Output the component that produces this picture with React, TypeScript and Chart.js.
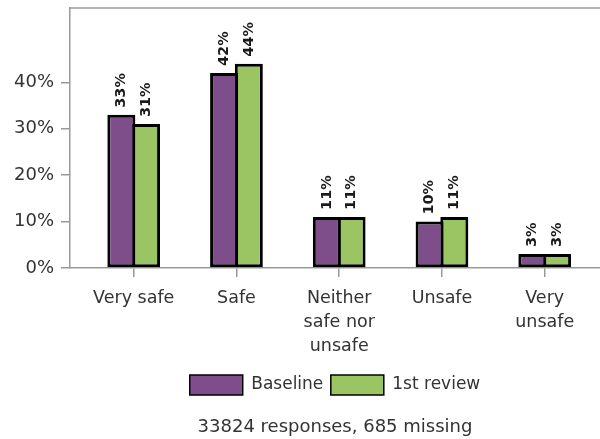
import React, { useEffect, useRef } from "react";
import { Chart, registerables } from "chart.js";

Chart.register(...registerables);

const categories: (string | string[])[] = [
  "Very safe",
  "Safe",
  ["Neither", "safe nor", "unsafe"],
  "Unsafe",
  ["Very", "unsafe"],
];
const baseline = [33, 42, 11, 10, 3];
const firstReview = [31, 44, 11, 11, 3];
const seriesNames = ["Baseline", "1st review"];
const yTicks = [0, 10, 20, 30, 40];
const footnote = "33824 responses, 685 missing";

const PURPLE = "#7d4e8a";
const GREEN = "#9bc463";
const AXIS = "#999999";
const TEXT = "#333333";
const FONT = "'DejaVu Sans', sans-serif";

const labelPlugin = {
  id: "barLabels",
  afterDatasetsDraw(chart: any) {
    const ctx = chart.ctx;
    ctx.save();
    ctx.fillStyle = "#1a1a1a";
    ctx.font = `bold 14.5px ${FONT}`;
    ctx.textAlign = "left";
    ctx.textBaseline = "middle";
    chart.data.datasets.forEach((ds: any, i: number) => {
      const meta = chart.getDatasetMeta(i);
      meta.data.forEach((bar: any, j: number) => {
        const v = ds.data[j].y;
        ctx.save();
        ctx.translate(bar.x, bar.y - 7);
        ctx.rotate(-Math.PI / 2);
        ctx.fillText(`${v}%`, 0, 0);
        ctx.restore();
      });
    });
    ctx.restore();
  },
};

const framePlugin = {
  id: "frameTop",
  afterDraw(chart: any) {
    const { ctx, chartArea } = chart;
    ctx.save();
    ctx.strokeStyle = AXIS;
    ctx.lineWidth = 1.5;
    ctx.beginPath();
    ctx.moveTo(chartArea.left, chartArea.top);
    ctx.lineTo(chartArea.right, chartArea.top);
    ctx.stroke();
    ctx.restore();
  },
};

const zeroPad = (scale: any) => {
  scale.paddingTop = 0;
  scale.paddingBottom = 0;
  scale.paddingLeft = 0;
  scale.paddingRight = 0;
};

export default function App() {
  const ref = useRef<HTMLCanvasElement>(null);
  useEffect(() => {
    if (!ref.current) return;
    Chart.defaults.font.family = FONT;
    const chart = new Chart(ref.current, {
      type: "bar",
      data: {
        datasets: [
          {
            label: seriesNames[0],
            data: baseline.map((y, i) => ({ x: i, y })),
            backgroundColor: PURPLE,
            borderColor: "#000",
            borderWidth: 3,
            borderSkipped: false,
          },
          {
            label: seriesNames[1],
            data: firstReview.map((y, i) => ({ x: i, y })),
            backgroundColor: GREEN,
            borderColor: "#000",
            borderWidth: 3,
            borderSkipped: false,
          },
        ],
      },
      plugins: [labelPlugin, framePlugin],
      options: {
        responsive: false,
        animation: false,
        categoryPercentage: 0.481,
        barPercentage: 1.134,
        layout: { padding: { top: 8, left: 0, right: 0, bottom: 0 } },
        scales: {
          x: {
            type: "linear",
            min: -0.62,
            max: 4.538,
            offset: false,
            afterBuildTicks: (scale: any) => {
              scale.ticks = categories.map((_, i) => ({ value: i }));
            },
            afterFit: (scale: any) => {
              scale.height = 99.5;
              zeroPad(scale);
            },
            ticks: {
              autoSkip: false,
              maxRotation: 0,
              color: TEXT,
              padding: 10,
              font: { size: 17.5, lineHeight: 1.36 },
              callback: (v: any) => categories[Math.round(Number(v))] as any,
            },
            grid: {
              display: true,
              offset: false,
              drawOnChartArea: false,
              drawTicks: true,
              tickLength: 9,
              color: AXIS,
              lineWidth: 1.5,
            },
            border: { display: true, color: AXIS, width: 1.5 },
          },
          y: {
            min: 0,
            max: 56,
            afterBuildTicks: (scale: any) => {
              scale.ticks = yTicks.map((v) => ({ value: v }));
            },
            afterFit: (scale: any) => {
              scale.width = 70;
              zeroPad(scale);
            },
            ticks: {
              color: TEXT,
              padding: 7,
              font: { size: 18 },
              callback: (v: any) => `${v}%`,
            },
            grid: {
              display: true,
              drawOnChartArea: false,
              drawTicks: true,
              tickLength: 9,
              color: AXIS,
              lineWidth: 1.5,
            },
            border: { display: true, color: AXIS, width: 1.5 },
          },
        },
        plugins: {
          legend: {
            position: "bottom",
            fullSize: false,
            labels: {
              boxWidth: 53,
              boxHeight: 20,
              padding: 7.5,
              color: TEXT,
              font: { size: 17 },
              generateLabels: (chart: any) => {
                const items = Chart.defaults.plugins.legend.labels.generateLabels(chart);
                return items.map((it: any) => ({ ...it, lineWidth: 1.5 }));
              },
            },
          },
          title: {
            display: true,
            position: "bottom",
            fullSize: false,
            text: footnote,
            color: TEXT,
            font: { size: 18, weight: "normal" as any },
            padding: { top: 12, bottom: 0.4 },
          },
          tooltip: { enabled: false },
        },
      },
    });
    return () => chart.destroy();
  }, []);
  return (
    <div style={{ position: "absolute", left: 0, top: 0, width: 600, height: 439 }}>
      <canvas ref={ref} width={600} height={439} />
    </div>
  );
}
